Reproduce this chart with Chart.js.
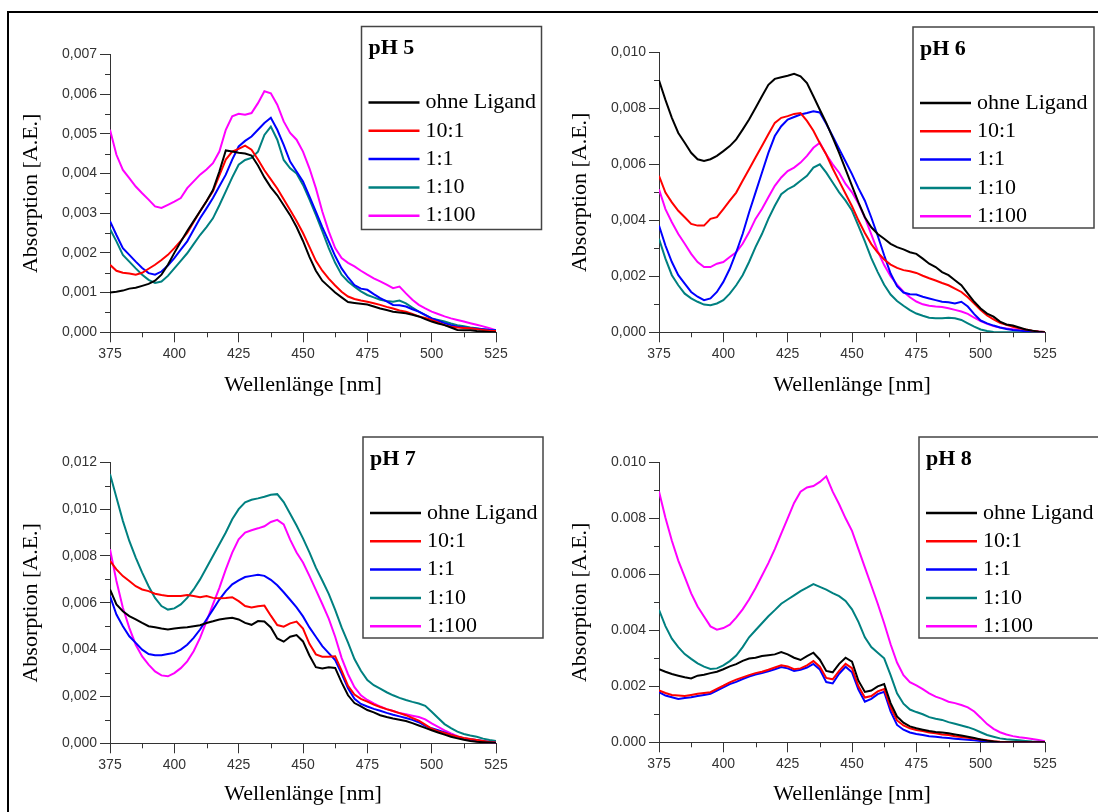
<!DOCTYPE html>
<html>
<head>
<meta charset="utf-8">
<script src="https://cdn.jsdelivr.net/npm/chart.js@4.4.1/dist/chart.umd.min.js"></script>
<style>
  body { margin: 0; background: #fff; width: 1098px; height: 812px; overflow: hidden; position: relative; }
  #frame { position: absolute; left: 7px; top: 11px; width: 1200px; height: 900px;
           border-top: 2px solid #000; border-left: 2px solid #000; }
  canvas { position: absolute; }
</style>
</head>
<body>
<div id="frame"></div>
<canvas id="ph5" width="549" height="406" style="left:0;top:0"></canvas>
<canvas id="ph6" width="549" height="406" style="left:549px;top:0"></canvas>
<canvas id="ph7" width="549" height="406" style="left:0;top:406px"></canvas>
<canvas id="ph8" width="549" height="406" style="left:549px;top:406px"></canvas>
<script>
// wavelength [nm], one reading every 2.5 nm
const wavelength = [375, 377.5, 380, 382.5, 385, 387.5, 390, 392.5, 395, 397.5,
  400, 402.5, 405, 407.5, 410, 412.5, 415, 417.5, 420, 422.5,
  425, 427.5, 430, 432.5, 435, 437.5, 440, 442.5, 445, 447.5,
  450, 452.5, 455, 457.5, 460, 462.5, 465, 467.5, 470, 472.5,
  475, 477.5, 480, 482.5, 485, 487.5, 490, 492.5, 495, 497.5,
  500, 502.5, 505, 507.5, 510, 512.5, 515, 517.5, 520, 522.5, 525];

const seriesNames = ['ohne Ligand', '10:1', '1:1', '1:10', '1:100'];
const seriesColors = ['#000000', '#ff0000', '#0000ff', '#008080', '#ff00ff'];

// absorption values in 10^-3 A.E.
const ph5_ohne = [1.00, 1.02, 1.05, 1.10, 1.12, 1.17, 1.22, 1.30, 1.45, 1.70,
  2.00, 2.28, 2.55, 2.80, 3.05, 3.30, 3.58, 4.05, 4.58, 4.55,
  4.52, 4.50, 4.45, 4.20, 3.90, 3.65, 3.45, 3.20, 2.95, 2.65,
  2.30, 1.90, 1.55, 1.30, 1.15, 1.00, 0.88, 0.76, 0.74, 0.72,
  0.70, 0.65, 0.60, 0.56, 0.52, 0.50, 0.48, 0.44, 0.40, 0.33,
  0.27, 0.22, 0.18, 0.12, 0.06, 0.05, 0.05, 0.03, 0.02, 0.01, 0.00];
const ph5_10_1 = [1.70, 1.55, 1.50, 1.48, 1.45, 1.50, 1.60, 1.70, 1.82, 1.95,
  2.12, 2.30, 2.50, 2.78, 3.05, 3.30, 3.55, 3.95, 4.35, 4.55,
  4.62, 4.70, 4.60, 4.35, 4.08, 3.85, 3.62, 3.35, 3.08, 2.80,
  2.50, 2.15, 1.80, 1.55, 1.35, 1.18, 1.02, 0.90, 0.84, 0.80,
  0.77, 0.73, 0.69, 0.64, 0.60, 0.55, 0.52, 0.46, 0.40, 0.36,
  0.31, 0.25, 0.18, 0.14, 0.12, 0.11, 0.10, 0.08, 0.06, 0.04, 0.03];
const ph5_1_1 = [2.80, 2.45, 2.12, 1.95, 1.78, 1.62, 1.49, 1.45, 1.53, 1.68,
  1.87, 2.08, 2.29, 2.58, 2.87, 3.12, 3.38, 3.68, 3.97, 4.35,
  4.68, 4.82, 4.93, 5.10, 5.27, 5.40, 5.10, 4.72, 4.30, 4.05,
  3.80, 3.42, 3.04, 2.65, 2.29, 1.92, 1.61, 1.38, 1.19, 1.10,
  1.07, 0.96, 0.86, 0.78, 0.69, 0.68, 0.65, 0.58, 0.52, 0.44,
  0.35, 0.29, 0.23, 0.18, 0.14, 0.12, 0.10, 0.09, 0.08, 0.06, 0.05];
const ph5_1_10 = [2.60, 2.29, 1.95, 1.78, 1.61, 1.45, 1.32, 1.24, 1.28, 1.42,
  1.61, 1.80, 1.99, 2.22, 2.45, 2.65, 2.87, 3.20, 3.55, 3.90,
  4.22, 4.34, 4.39, 4.55, 4.97, 5.18, 4.85, 4.34, 4.13, 4.00,
  3.71, 3.35, 2.96, 2.55, 2.12, 1.75, 1.45, 1.28, 1.15, 1.03,
  0.94, 0.88, 0.82, 0.79, 0.77, 0.80, 0.73, 0.62, 0.52, 0.43,
  0.35, 0.31, 0.27, 0.22, 0.18, 0.15, 0.12, 0.10, 0.08, 0.06, 0.05];
const ph5_1_100 = [5.10, 4.47, 4.09, 3.88, 3.67, 3.50, 3.34, 3.17, 3.13, 3.21,
  3.29, 3.38, 3.63, 3.80, 3.97, 4.10, 4.26, 4.55, 5.10, 5.44,
  5.50, 5.48, 5.52, 5.77, 6.07, 6.02, 5.73, 5.31, 5.02, 4.85,
  4.55, 4.13, 3.63, 3.04, 2.54, 2.12, 1.87, 1.75, 1.66, 1.55,
  1.45, 1.36, 1.28, 1.20, 1.11, 1.15, 0.98, 0.82, 0.69, 0.60,
  0.52, 0.46, 0.40, 0.35, 0.31, 0.27, 0.23, 0.19, 0.15, 0.10, 0.05];

const ph6_ohne = [9.00, 8.30, 7.66, 7.12, 6.77, 6.41, 6.18, 6.12, 6.18, 6.30,
  6.47, 6.65, 6.89, 7.24, 7.60, 8.01, 8.43, 8.84, 9.05, 9.11,
  9.16, 9.23, 9.14, 8.90, 8.43, 7.95, 7.48, 6.95, 6.41, 5.82,
  5.23, 4.64, 4.11, 3.75, 3.51, 3.34, 3.16, 3.04, 2.96, 2.86,
  2.80, 2.63, 2.45, 2.33, 2.15, 2.04, 1.86, 1.68, 1.38, 1.09,
  0.85, 0.67, 0.56, 0.38, 0.28, 0.24, 0.17, 0.10, 0.06, 0.02, 0.00];
const ph6_10_1 = [5.59, 4.99, 4.64, 4.34, 4.11, 3.87, 3.81, 3.81, 4.05, 4.11,
  4.40, 4.70, 4.99, 5.41, 5.82, 6.24, 6.65, 7.07, 7.48, 7.66,
  7.72, 7.80, 7.83, 7.55, 7.20, 6.75, 6.35, 5.85, 5.40, 4.95,
  4.50, 4.00, 3.55, 3.15, 2.85, 2.60, 2.42, 2.30, 2.22, 2.18,
  2.12, 2.02, 1.93, 1.85, 1.76, 1.68, 1.56, 1.44, 1.25, 1.03,
  0.80, 0.60, 0.46, 0.34, 0.27, 0.20, 0.14, 0.10, 0.06, 0.03, 0.01];
const ph6_1_1 = [3.81, 3.10, 2.51, 2.04, 1.74, 1.44, 1.27, 1.15, 1.21, 1.44,
  1.80, 2.27, 2.86, 3.51, 4.28, 4.99, 5.70, 6.41, 7.01, 7.36,
  7.60, 7.69, 7.78, 7.83, 7.89, 7.85, 7.45, 7.00, 6.55, 6.10,
  5.65, 5.15, 4.70, 4.10, 3.45, 2.75, 2.10, 1.65, 1.42, 1.36,
  1.35, 1.27, 1.21, 1.15, 1.09, 1.07, 1.03, 1.09, 0.92, 0.65,
  0.42, 0.32, 0.24, 0.17, 0.12, 0.08, 0.06, 0.04, 0.03, 0.02, 0.01];
const ph6_1_10 = [3.34, 2.63, 2.04, 1.68, 1.38, 1.21, 1.09, 0.99, 0.97, 1.03,
  1.15, 1.38, 1.68, 2.04, 2.51, 3.04, 3.51, 4.05, 4.52, 4.93,
  5.11, 5.23, 5.41, 5.59, 5.88, 6.00, 5.70, 5.35, 5.00, 4.70,
  4.35, 3.80, 3.25, 2.65, 2.15, 1.70, 1.35, 1.12, 0.95, 0.79,
  0.67, 0.59, 0.52, 0.50, 0.50, 0.52, 0.50, 0.44, 0.32, 0.20,
  0.10, 0.05, 0.01, 0.00, 0.00, 0.00, 0.00, 0.00, 0.00, 0.00, 0.00];
const ph6_1_100 = [5.11, 4.40, 3.93, 3.51, 3.16, 2.80, 2.51, 2.33, 2.33, 2.45,
  2.51, 2.69, 2.86, 3.16, 3.57, 4.05, 4.40, 4.82, 5.23, 5.53,
  5.76, 5.88, 6.06, 6.30, 6.59, 6.77, 6.35, 6.00, 5.70, 5.30,
  5.00, 4.60, 4.10, 3.50, 2.90, 2.40, 2.00, 1.70, 1.45, 1.25,
  1.10, 1.00, 0.95, 0.92, 0.90, 0.86, 0.80, 0.74, 0.66, 0.52,
  0.40, 0.30, 0.22, 0.17, 0.14, 0.11, 0.08, 0.06, 0.04, 0.02, 0.01];

const ph7_ohne = [6.57, 5.93, 5.64, 5.43, 5.29, 5.14, 5.00, 4.96, 4.90, 4.86,
  4.90, 4.93, 4.96, 5.00, 5.04, 5.14, 5.21, 5.29, 5.33, 5.36,
  5.29, 5.14, 5.06, 5.22, 5.20, 4.95, 4.48, 4.34, 4.55, 4.62,
  4.35, 3.75, 3.25, 3.20, 3.25, 3.22, 2.60, 2.05, 1.72, 1.58,
  1.42, 1.32, 1.20, 1.12, 1.06, 1.01, 0.95, 0.86, 0.76, 0.66,
  0.56, 0.46, 0.37, 0.28, 0.21, 0.15, 0.10, 0.07, 0.05, 0.03, 0.01];
const ph7_10_1 = [7.79, 7.43, 7.14, 6.93, 6.71, 6.57, 6.50, 6.39, 6.33, 6.29,
  6.29, 6.29, 6.33, 6.29, 6.24, 6.29, 6.21, 6.19, 6.21, 6.24,
  6.07, 5.86, 5.80, 5.85, 5.88, 5.45, 5.05, 4.98, 5.12, 5.20,
  4.90, 4.25, 3.80, 3.70, 3.70, 3.72, 3.10, 2.45, 2.08, 1.90,
  1.78, 1.65, 1.55, 1.46, 1.38, 1.29, 1.20, 1.08, 0.97, 0.80,
  0.62, 0.52, 0.44, 0.36, 0.29, 0.23, 0.18, 0.14, 0.10, 0.06, 0.03];
const ph7_1_1 = [6.29, 5.50, 5.00, 4.57, 4.29, 4.00, 3.81, 3.76, 3.76, 3.81,
  3.86, 4.00, 4.21, 4.50, 4.86, 5.29, 5.71, 6.14, 6.50, 6.79,
  6.96, 7.10, 7.15, 7.20, 7.15, 6.98, 6.75, 6.45, 6.13, 5.80,
  5.42, 4.95, 4.55, 4.15, 3.85, 3.55, 2.98, 2.35, 1.90, 1.68,
  1.57, 1.47, 1.39, 1.30, 1.22, 1.15, 1.08, 1.00, 0.90, 0.75,
  0.64, 0.56, 0.46, 0.36, 0.28, 0.22, 0.17, 0.14, 0.10, 0.06, 0.03];
const ph7_1_10 = [11.50, 10.50, 9.50, 8.64, 7.93, 7.29, 6.71, 6.21, 5.86, 5.71,
  5.76, 5.93, 6.21, 6.57, 7.00, 7.50, 8.00, 8.50, 9.00, 9.57,
  10.00, 10.29, 10.40, 10.46, 10.53, 10.61, 10.64, 10.30, 9.80, 9.30,
  8.75, 8.15, 7.50, 6.95, 6.38, 5.70, 4.95, 4.30, 3.60, 3.10,
  2.70, 2.48, 2.33, 2.18, 2.05, 1.94, 1.85, 1.77, 1.70, 1.60,
  1.35, 1.08, 0.82, 0.65, 0.50, 0.40, 0.33, 0.28, 0.20, 0.14, 0.10];
const ph7_1_100 = [8.29, 6.93, 5.79, 4.93, 4.21, 3.71, 3.36, 3.07, 2.90, 2.86,
  3.00, 3.21, 3.50, 3.93, 4.50, 5.21, 5.93, 6.64, 7.43, 8.14,
  8.71, 9.00, 9.10, 9.18, 9.27, 9.45, 9.54, 9.35, 8.70, 8.15,
  7.72, 7.15, 6.55, 5.95, 5.32, 4.55, 3.65, 2.95, 2.40, 2.05,
  1.85, 1.70, 1.57, 1.46, 1.38, 1.29, 1.24, 1.18, 1.12, 1.02,
  0.85, 0.70, 0.55, 0.42, 0.30, 0.20, 0.14, 0.08, 0.05, 0.03, 0.02];

const ph8_ohne = [2.61, 2.52, 2.44, 2.38, 2.32, 2.28, 2.38, 2.41, 2.47, 2.52,
  2.61, 2.71, 2.79, 2.91, 2.99, 3.02, 3.08, 3.11, 3.14, 3.22,
  3.14, 3.02, 2.94, 3.08, 3.20, 2.95, 2.55, 2.50, 2.80, 3.02,
  2.88, 2.20, 1.80, 1.85, 2.00, 2.08, 1.40, 0.92, 0.70, 0.57,
  0.50, 0.45, 0.40, 0.37, 0.35, 0.32, 0.28, 0.24, 0.20, 0.15,
  0.10, 0.06, 0.03, 0.00, 0.00, 0.00, 0.00, 0.00, 0.00, 0.00, 0.00];
const ph8_10_1 = [1.85, 1.76, 1.69, 1.67, 1.65, 1.69, 1.73, 1.76, 1.79, 1.91,
  2.02, 2.14, 2.24, 2.32, 2.40, 2.47, 2.52, 2.59, 2.67, 2.75,
  2.71, 2.61, 2.64, 2.75, 2.90, 2.70, 2.30, 2.25, 2.55, 2.80,
  2.65, 2.00, 1.60, 1.65, 1.82, 1.90, 1.25, 0.78, 0.60, 0.50,
  0.44, 0.40, 0.35, 0.32, 0.28, 0.26, 0.22, 0.19, 0.16, 0.13,
  0.10, 0.07, 0.04, 0.02, 0.01, 0.00, 0.00, 0.00, 0.00, 0.00, 0.00];
const ph8_1_1 = [1.79, 1.67, 1.61, 1.55, 1.58, 1.61, 1.65, 1.69, 1.73, 1.85,
  1.96, 2.08, 2.16, 2.26, 2.35, 2.42, 2.47, 2.54, 2.61, 2.69,
  2.64, 2.55, 2.59, 2.67, 2.80, 2.60, 2.15, 2.10, 2.45, 2.70,
  2.50, 1.88, 1.45, 1.55, 1.72, 1.80, 1.10, 0.62, 0.45, 0.35,
  0.30, 0.26, 0.22, 0.20, 0.17, 0.15, 0.13, 0.11, 0.09, 0.07,
  0.05, 0.03, 0.01, 0.00, 0.00, 0.00, 0.00, 0.00, 0.00, 0.00, 0.00];
const ph8_1_10 = [4.73, 4.15, 3.70, 3.40, 3.15, 2.98, 2.82, 2.70, 2.62, 2.64,
  2.75, 2.90, 3.10, 3.40, 3.75, 4.00, 4.25, 4.50, 4.72, 4.95,
  5.10, 5.25, 5.40, 5.52, 5.65, 5.55, 5.45, 5.33, 5.22, 5.05,
  4.75, 4.30, 3.75, 3.40, 3.20, 3.00, 2.40, 1.75, 1.38, 1.17,
  1.08, 1.00, 0.90, 0.84, 0.80, 0.72, 0.66, 0.60, 0.54, 0.46,
  0.36, 0.26, 0.20, 0.14, 0.11, 0.09, 0.07, 0.05, 0.03, 0.02, 0.01];
const ph8_1_100 = [8.96, 8.02, 7.20, 6.49, 5.91, 5.32, 4.85, 4.49, 4.14, 4.02,
  4.08, 4.20, 4.45, 4.75, 5.10, 5.50, 5.95, 6.40, 6.90, 7.45,
  8.00, 8.55, 8.95, 9.10, 9.15, 9.30, 9.50, 8.95, 8.50, 8.00,
  7.55, 6.90, 6.25, 5.60, 4.95, 4.25, 3.50, 2.85, 2.40, 2.15,
  2.03, 1.90, 1.75, 1.63, 1.55, 1.45, 1.40, 1.33, 1.25, 1.10,
  0.88, 0.65, 0.48, 0.36, 0.28, 0.22, 0.18, 0.15, 0.12, 0.08, 0.04];

// y axis tops / steps per panel
const yMax = { ph5: 0.007, ph6: 0.010, ph7: 0.012, ph8: 0.010 };
const yStep = { ph5: 0.001, ph6: 0.002, ph7: 0.002, ph8: 0.002 };
const xTicks = [375, 400, 425, 450, 475, 500, 525];

const SERIF = '"Liberation Serif", "Times New Roman", serif';
const SANS = '"Liberation Sans", Arial, sans-serif';

// small minor tick marks halfway between the major ones
const minorTicks = {
  id: 'minorTicks',
  afterDraw(chart) {
    const { ctx, scales: { x, y } } = chart;
    ctx.save();
    ctx.strokeStyle = '#333';
    ctx.lineWidth = 1;
    ctx.beginPath();
    for (let i = 0; i < x.ticks.length - 1; i++) {
      const px = Math.round(x.getPixelForValue((x.ticks[i].value + x.ticks[i + 1].value) / 2)) + 0.5;
      ctx.moveTo(px, x.top);
      ctx.lineTo(px, x.top + 5);
    }
    for (let i = 0; i < y.ticks.length - 1; i++) {
      const py = Math.round(y.getPixelForValue((y.ticks[i].value + y.ticks[i + 1].value) / 2)) + 0.5;
      ctx.moveTo(y.right, py);
      ctx.lineTo(y.right - 5, py);
    }
    ctx.stroke();
    ctx.restore();
  }
};

// boxed legend with the pH title, drawn over the plot
const boxLegend = {
  id: 'boxLegend',
  afterDraw(chart, args, opts) {
    const { ctx } = chart;
    const b = opts.box;
    ctx.save();
    ctx.fillStyle = '#fff';
    ctx.fillRect(b.l, b.t, b.r - b.l, b.b - b.t);
    ctx.strokeStyle = '#444';
    ctx.lineWidth = 1.5;
    ctx.strokeRect(b.l, b.t, b.r - b.l, b.b - b.t);
    ctx.fillStyle = '#000';
    ctx.textBaseline = 'middle';
    ctx.textAlign = 'left';
    ctx.font = 'bold 22px ' + SERIF;
    ctx.fillText(opts.title, b.l + 7, b.t + 22);
    ctx.font = '22px ' + SERIF;
    chart.data.datasets.forEach((ds, i) => {
      const yy = b.t + 76 + i * 28.3;
      ctx.strokeStyle = ds.borderColor;
      ctx.lineWidth = 2.5;
      ctx.beginPath();
      ctx.moveTo(b.l + 7, yy);
      ctx.lineTo(b.l + 58, yy);
      ctx.stroke();
      ctx.fillStyle = '#000';
      ctx.fillText(ds.label, b.l + 64, yy);
    });
    ctx.restore();
  }
};

function makeChart(id, title, series, sep, geo) {
  new Chart(document.getElementById(id), {
    type: 'line',
    data: {
      labels: wavelength,
      datasets: series.map((vals, i) => ({
        label: seriesNames[i],
        data: vals.map(v => v / 1000),
        borderColor: seriesColors[i],
        borderWidth: 2,
        pointRadius: 0,
        tension: 0,
        fill: false
      }))
    },
    options: {
      responsive: false,
      animation: false,
      events: [],
      layout: { padding: { left: 0, top: geo.top, right: 53, bottom: 0 } },
      plugins: {
        legend: { display: false },
        tooltip: { enabled: false },
        boxLegend: { title: title, box: geo.box }
      },
      scales: {
        x: {
          type: 'linear',
          min: 375, max: 525,
          afterBuildTicks: s => { s.ticks = xTicks.map(v => ({ value: v })); },
          afterFit: s => { s.height = geo.xh; },
          ticks: { color: '#333', font: { family: SANS, size: 14 }, padding: 3, maxRotation: 0 },
          grid: { drawOnChartArea: false, drawTicks: true, tickLength: 10, color: '#333' },
          border: { display: true, color: '#333', width: 1 },
          title: { display: true, text: 'Wellenlänge [nm]', color: '#000',
                   font: { family: SERIF, size: 22 }, padding: { top: 0, bottom: geo.xtp } }
        },
        y: {
          min: 0, max: yMax[id],
          afterFit: s => { s.width = 110; },
          ticks: { stepSize: yStep[id], color: '#333', font: { family: SANS, size: 14 }, padding: 3,
                   callback: v => v.toFixed(3).replace('.', sep) },
          grid: { drawOnChartArea: false, drawTicks: true, tickLength: 10, color: '#333' },
          border: { display: true, color: '#333', width: 1 },
          title: { display: true, text: 'Absorption [A.E.]', color: '#000',
                   font: { family: SERIF, size: 22 }, padding: { top: 18, bottom: 0 } }
        }
      }
    },
    plugins: [minorTicks, boxLegend]
  });
}

makeChart('ph5', 'pH 5', [ph5_ohne, ph5_10_1, ph5_1_1, ph5_1_10, ph5_1_100], ',',
  { top: 54.3, xh: 73.7, xtp: 8, box: { l: 361.5, t: 26.5, r: 541.5, b: 229.5 } });
makeChart('ph6', 'pH 6', [ph6_ohne, ph6_10_1, ph6_1_1, ph6_1_10, ph6_1_100], ',',
  { top: 52.3, xh: 73.7, xtp: 8, box: { l: 364, t: 27, r: 545, b: 228 } });
makeChart('ph7', 'pH 7', [ph7_ohne, ph7_10_1, ph7_1_1, ph7_1_10, ph7_1_100], ',',
  { top: 56.3, xh: 68.7, xtp: 4.5, box: { l: 363, t: 31, r: 543, b: 232 } });
makeChart('ph8', 'pH 8', [ph8_ohne, ph8_10_1, ph8_1_1, ph8_1_10, ph8_1_100], '.',
  { top: 56.3, xh: 69.7, xtp: 4.5, box: { l: 370, t: 31, r: 600, b: 232 } });
</script>
</body>
</html>
